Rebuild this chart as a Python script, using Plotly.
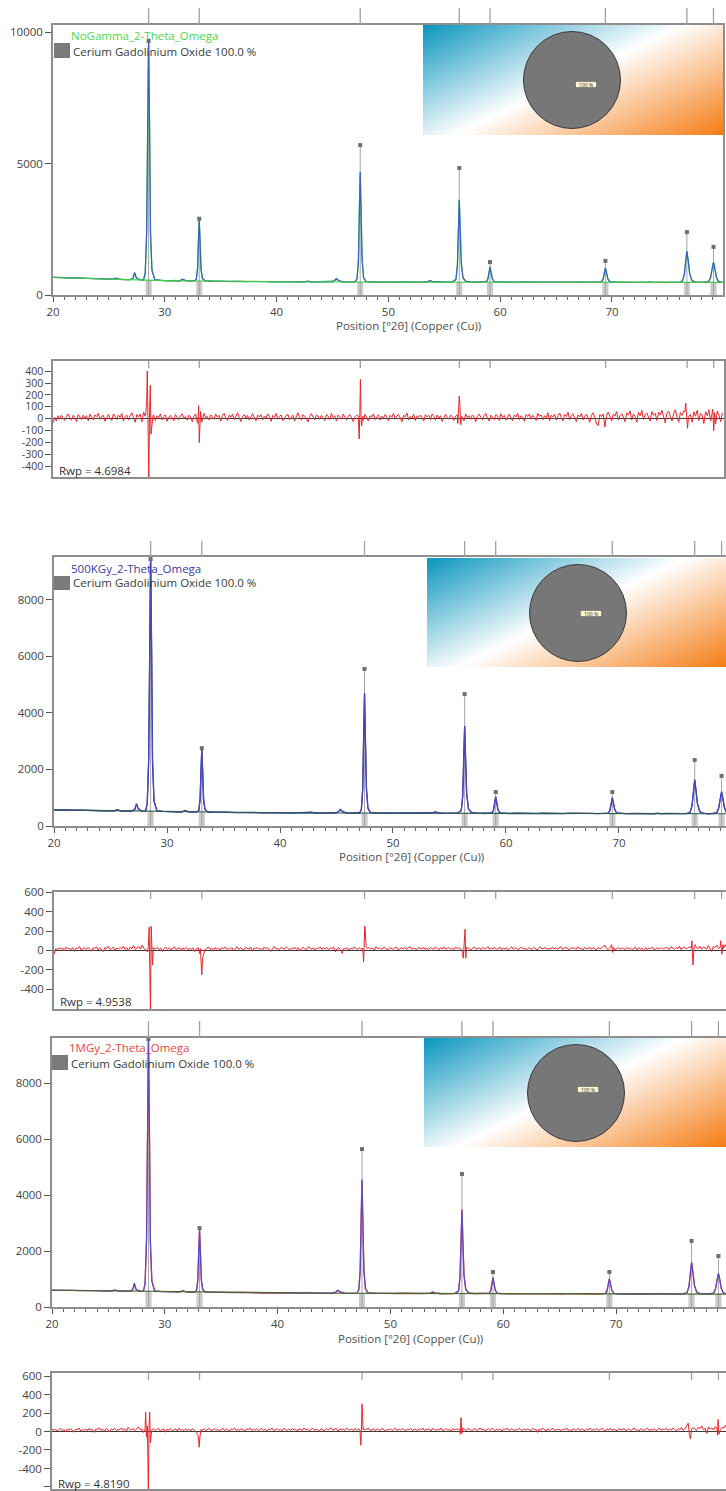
import base64
import plotly.graph_objects as go

W, H = 726, 1491
FONT = "Open Sans, Noto Sans, sans-serif"

# ---------------------------------------------------------------------------
# Scan positions (°2θ) shared by the observed and calculated profiles
# ---------------------------------------------------------------------------
PROFILE_X = [
    20.0, 20.6, 21.2, 21.8, 22.4, 23.0, 23.6, 24.2, 24.8, 25.3, 25.6, 25.9, 26.4, 26.9, 27.15, 27.3, 27.45, 27.8, 28.1,
    28.25, 28.38, 28.46, 28.55, 28.64, 28.72, 28.85,
    29.1, 29.6, 30.2, 30.8, 31.3, 31.6, 31.9, 32.4, 32.7,
    32.82, 32.93, 33.0, 33.08, 33.16, 33.24, 33.36,
    33.6, 34.2, 34.8, 35.4, 36.0, 36.6, 37.2, 37.8, 38.4, 39.0, 39.6, 40.2, 40.8, 41.4, 42.0, 42.5, 42.8, 43.1, 43.7,
    44.3, 44.9, 45.15, 45.35, 45.55, 46.0, 46.6, 47.05,
    47.2, 47.32, 47.4, 47.48, 47.56, 47.65, 47.78,
    48.0, 48.6, 49.2, 49.8, 50.4, 51.0, 51.6, 52.2, 52.8, 53.3, 53.55, 53.75, 53.95, 54.5, 55.1, 55.7,
    56.04, 56.17, 56.26, 56.34, 56.43, 56.52, 56.68,
    56.95, 57.5, 58.1, 58.55,
    58.76, 58.9, 58.99, 59.09, 59.19, 59.29, 59.44,
    59.7, 60.3, 60.9, 61.5, 62.1, 62.7, 63.3, 63.9, 64.5, 65.1, 65.7, 66.3, 66.9, 67.5, 68.1, 68.6,
    69.05, 69.2, 69.31, 69.41, 69.52, 69.63, 69.8,
    70.1, 70.7, 71.3, 71.9, 72.5, 73.1, 73.4, 73.7, 74.3, 74.9, 75.5, 76.0,
    76.3, 76.47, 76.59, 76.70, 76.82, 76.95, 77.15,
    77.45, 77.9, 78.35,
    78.65, 78.82, 78.95, 79.08, 79.2, 79.33, 79.5,
    79.7, 80.0,
]

# --- NoGamma scan --------------------------------------------------------------
NOGAMMA_OBS = [
    676, 655, 662, 641, 650, 628, 631, 610, 614, 596, 632, 603, 582, 590, 628, 838, 662, 566, 578,
    820, 2450, 6180, 9700, 6350, 2360, 960,
    582, 561, 540, 551, 532, 590, 545, 528, 551,
    610, 1020, 1940, 2880, 2010, 970, 640,
    534, 535, 517, 527, 509, 520, 503, 515, 498, 509, 494, 507, 492, 505, 490, 503, 520, 489, 502,
    488, 507, 533, 612, 547, 489, 501, 499,
    640, 1300, 3150, 4660, 3020, 1370, 650,
    512, 500, 485, 498, 483, 497, 484, 496, 483, 499, 508, 552, 503, 497, 483, 502,
    590, 1080, 2480, 3640, 2380, 1210, 640,
    512, 498, 483, 501,
    500, 620, 830, 1075, 840, 632, 508,
    502, 483, 496, 482, 495, 481, 494, 480, 493, 480, 494, 479, 493, 479, 492, 479,
    508, 585, 840, 1020, 822, 618, 503,
    497, 478, 491, 477, 490, 476, 507, 476, 489, 475, 490, 478,
    538, 765, 1270, 1650, 1305, 800, 561,
    488, 488, 476,
    518, 660, 995, 1235, 1018, 685, 533,
    484, 487,
]
NOGAMMA_CALC = [
    670, 664, 657, 650, 642, 634, 625, 617, 608, 600, 640, 596, 588, 582, 640, 860, 650, 572, 570,
    841, 2402, 6260, 9750, 6260, 2402, 932,
    590, 555, 548, 543, 540, 600, 538, 535, 545,
    602, 996, 1969, 2850, 1969, 996, 625,
    540, 528, 524, 520, 516, 513, 510, 508, 505, 503, 501, 500, 499, 498, 497, 497, 525, 496, 495,
    495, 500, 540, 620, 540, 496, 494, 505,
    620, 1331, 3089, 4680, 3089, 1331, 661,
    520, 493, 492, 491, 490, 490, 490, 490, 490, 492, 515, 545, 510, 490, 490, 495,
    584, 1114, 2424, 3610, 2424, 1185, 646,
    520, 491, 490, 495,
    507, 604, 843, 1060, 853, 620, 515,
    495, 490, 489, 489, 488, 488, 488, 487, 487, 487, 486, 486, 486, 486, 485, 486,
    502, 594, 823, 1030, 834, 610, 510,
    490, 485, 484, 484, 483, 483, 500, 483, 482, 482, 482, 485,
    530, 779, 1254, 1670, 1290, 815, 553,
    495, 481, 483,
    511, 673, 980, 1250, 1004, 696, 526,
    490, 480,
]

# --- 500 kGy scan --------------------------------------------------------------
KGY500_OBS = [
    575, 560, 568, 552, 559, 545, 552, 537, 546, 531, 568, 538, 524, 531, 582, 780, 618, 516, 527,
    780, 2380, 6060, 9620, 6200, 2290, 900,
    533, 518, 502, 510, 494, 552, 503, 489, 506,
    566, 960, 1840, 2740, 1900, 925, 590,
    494, 492, 476, 485, 471, 481, 467, 477, 463, 473, 460, 471, 457, 468, 455, 466, 486, 453, 464,
    451, 468, 494, 588, 507, 450, 461, 459,
    590, 1290, 3120, 4680, 3060, 1320, 632,
    474, 460, 447, 458, 446, 457, 445, 456, 444, 458, 464, 507, 474, 443, 455, 446,
    548, 1040, 2370, 3530, 2310, 1140, 608,
    472, 454, 441, 458,
    458, 570, 790, 1035, 805, 586, 466,
    456, 440, 451, 439, 450, 438, 450, 437, 449, 437, 452, 456, 436, 448, 435, 448,
    452, 560, 770, 1005, 785, 575, 460,
    451, 434, 446, 433, 445, 433, 458, 433, 444, 432, 444, 435,
    491, 725, 1220, 1640, 1230, 780, 503,
    457, 431, 445,
    461, 635, 925, 1215, 948, 660, 476,
    452, 430,
]
KGY500_CALC = [
    570, 566, 562, 558, 554, 551, 547, 543, 540, 537, 575, 532, 529, 526, 590, 790, 610, 522, 521,
    791, 2326, 6119, 9550, 6119, 2326, 881,
    540, 512, 508, 504, 500, 545, 497, 494, 500,
    559, 938, 1873, 2720, 1873, 938, 581,
    500, 486, 482, 479, 477, 475, 473, 471, 469, 467, 466, 465, 463, 462, 461, 460, 480, 459, 458,
    457, 462, 500, 580, 500, 456, 455, 465,
    582, 1304, 3087, 4700, 3087, 1304, 625,
    480, 454, 453, 452, 452, 451, 451, 450, 450, 452, 470, 500, 468, 449, 449, 452,
    540, 1058, 2340, 3500, 2340, 1120, 600,
    478, 448, 447, 452,
    464, 562, 802, 1020, 812, 578, 472,
    450, 446, 445, 445, 444, 444, 444, 443, 443, 443, 445, 450, 442, 442, 441, 442,
    458, 551, 781, 990, 792, 567, 466,
    445, 440, 440, 439, 439, 439, 452, 439, 438, 438, 438, 441,
    485, 734, 1206, 1620, 1242, 769, 509,
    451, 437, 439,
    467, 627, 933, 1200, 956, 650, 482,
    446, 436,
]

# --- 1 MGy scan ----------------------------------------------------------------
MGY1_OBS = [
    594, 603, 588, 597, 582, 591, 576, 585, 570, 579, 599, 575, 560, 570, 614, 830, 636, 555, 566,
    810, 2420, 6120, 9700, 6260, 2330, 950,
    569, 556, 540, 548, 533, 578, 541, 526, 544,
    603, 1000, 1880, 2780, 1950, 955, 628,
    529, 532, 516, 525, 510, 519, 504, 513, 499, 509, 495, 505, 492, 503, 490, 501, 516, 488, 499,
    486, 503, 524, 592, 536, 485, 496, 494,
    630, 1280, 3050, 4530, 2980, 1330, 660,
    506, 495, 482, 493, 480, 491, 478, 489, 476, 490, 494, 536, 504, 474, 485, 476,
    575, 1050, 2360, 3490, 2300, 1150, 635,
    499, 483, 470, 486,
    486, 600, 815, 1060, 828, 612, 494,
    484, 468, 479, 467, 478, 466, 477, 465, 476, 464, 476, 463, 475, 463, 474, 463,
    490, 565, 812, 1015, 800, 598, 486,
    478, 461, 473, 460, 472, 460, 479, 472, 459, 471, 459, 474,
    515, 740, 1215, 1590, 1245, 775, 538,
    471, 469, 459,
    498, 640, 955, 1190, 975, 662, 512,
    466, 468,
]
MGY1_CALC = [
    600, 597, 594, 591, 588, 585, 582, 579, 576, 573, 605, 569, 566, 564, 620, 850, 630, 561, 560,
    831, 2376, 6195, 9650, 6195, 2376, 922,
    575, 550, 546, 542, 539, 585, 535, 532, 538,
    597, 974, 1906, 2750, 1906, 974, 619,
    535, 526, 522, 519, 516, 513, 510, 507, 505, 503, 501, 499, 498, 497, 496, 495, 510, 494, 493,
    492, 497, 530, 600, 530, 491, 490, 500,
    612, 1302, 3007, 4550, 3007, 1302, 652,
    512, 489, 488, 487, 486, 485, 484, 483, 482, 484, 500, 530, 498, 480, 479, 482,
    567, 1074, 2327, 3460, 2327, 1134, 627,
    505, 477, 476, 480,
    492, 588, 825, 1040, 835, 604, 500,
    478, 474, 473, 473, 472, 472, 471, 471, 470, 470, 470, 469, 469, 469, 468, 469,
    484, 574, 798, 1000, 809, 590, 492,
    472, 467, 467, 466, 466, 466, 485, 466, 465, 465, 465, 468,
    509, 748, 1202, 1600, 1236, 782, 532,
    477, 463, 465,
    492, 647, 942, 1200, 965, 669, 506,
    472, 462,
]

# --- fitted background of each scan -----------------------------------------------
BACKGROUND_X = [20, 25, 30, 35, 40, 45, 50, 55, 60, 65, 70, 75, 80]
NOGAMMA_BG = [668, 603, 546, 521, 501, 494, 490, 489, 488, 486, 484, 482, 479]
KGY500_BG = [569, 538, 509, 480, 466, 457, 452, 449, 446, 443, 441, 438, 435]
MGY1_BG = [599, 574, 547, 520, 500, 492, 486, 480, 474, 470, 468, 465, 461]

# ---------------------------------------------------------------------------
# Cerium gadolinium oxide reference lines
# ---------------------------------------------------------------------------
REF_POS = [28.55, 33.08, 47.48, 56.34, 59.09, 69.41, 76.70, 79.08]
NOGAMMA_REF = [9660, 2900, 5700, 4830, 1250, 1300, 2390, 1830]
KGY500_REF = [9430, 2750, 5550, 4660, 1200, 1200, 2330, 1770]
MGY1_REF = [9570, 2820, 5640, 4750, 1250, 1250, 2360, 1820]
NOGAMMA_BASE = [565, 532, 494, 490, 490, 485, 482, 480]
KGY500_BASE = [520, 492, 455, 448, 447, 441, 438, 436]
MGY1_BASE = [558, 530, 490, 478, 475, 468, 464, 462]

# ---------------------------------------------------------------------------
# Difference curves (Iobs - Icalc): regular scan steps plus the peak regions
# ---------------------------------------------------------------------------
DIFF_START, DIFF_STEP = 20.0, 0.15
NOGAMMA_DIFF = [
    -35, 10, -20, 25, -5, 30, 8, -15, 22, 40, 5, -12, 28, 12, -25, 35, 15, -8, 30, 2,
    25, -18, 38, 10, -10, 32, 18, 45, -5, 20, 28, -22, 15, 35, 5, -15, 40, 22, -8, 30,
    12, 45, -20, 18, 30, -10, 25, 50, 8, -30, 35, 15, 40, -25, 55, 20, -12, 30, 5, -20,
    30, -15, 25, 8, 40, -10, 18, 32, -22, 12, 28, 5, -18, 35, 10, -8, 25, 42, 0, 20,
    -12, 30, 15, -25, 22, 40, -30, 10, 25, -15, 45, 8, 20, -10, 32, 15, -5, 38, 12, 28,
    -20, 25, 45, 5, -15, 30, 12, 38, -8, 22, 50, 10, -25, 18, 35, 5, 28, -12, 20, 42,
    8, -18, 30, 15, 35, -10, 22, 5, 40, 18, -22, 28, 12, 45, -5, 20, 32, -15, 10, 25,
    38, -8, 15, 30, -20, 25, 50, 12, -12, 35, 20, 5, -28, 18, 42, 8, -10, 30, 22, -5,
    28, 12, -15, 35, 20, -8, 45, 10, 25, -20, 32, 15, -5, 40, 18, -12, 22, 35, 5, -25,
    15, 30, -10, 20, 28, -15, 38, 8, -20, 25, 12, 40, -8, 18, 32, -12, 22, 5, 35, 15,
    -18, 28, 12, 45, -5, 22, 35, 8, -25, 30, 15, 48, -10, 20, 5, 38, -15, 25, 12, 30,
    8, -20, 35, 15, 28, -8, 40, 20, -12, 32, 5, 25, -22, 15, 38, 10, -5, 30, 18, -15,
    22, 35, -10, 28, 12, -18, 40, 8, 25, -5, 32, 15, -25, 20, 38, 10, -12, 28, 45, 5,
    -20, 30, 15, -8, 35, 22, -15, 42, 10, 28, -12, 20, 38, 5, -18, 32, 15, 45, -8, 25,
    12, -22, 35, 18, 40, -5, 28, 10, -15, 45, 20, 32, -10, 25, 8, 50, -18, 30, 15, 38,
    -12, 25, 48, 10, -20, 35, 18, 55, -8, 28, 40, 5, -25, 32, 15, 45, -10, 22, 38, 8,
    -30, 28, 50, 12, -45, -60, 35, 18, 40, -15, 30, 55, 10, -20, 38, 22, 60, -10, 25, 42,
    15, -25, 50, 30, 65, -12, 40, 20, -30, 55, 25, 70, -8, 35, 48, 10, -20, 60, 28, 45,
    -15, 55, 30, 70, 10, -35, 48, 62, 20, -20, 40, 75, 15, -30, 52, 28, 65, -10, 45, 20,
    35, -28, 58, 20, 70, -15, 45, 30, -40, 60, 25, 75, -20, 50, 10, -45, 65, 30, -25, 48,
]
NOGAMMA_PEAK_DIFF = [
    ([28.3, 28.38, 28.43, 28.5, 28.57, 28.63, 28.7, 28.76, 28.85, 28.95],
     [50, 150, 400, -20, -520, 40, 280, -130, -40, 30]),
    ([32.95, 33.02, 33.08, 33.14, 33.2, 33.3], [-40, 110, -200, -60, 60, -30]),
    ([47.3, 47.38, 47.44, 47.49, 47.55, 47.6, 47.7], [20, -170, 60, 330, 0, -60, 20]),
    ([56.2, 56.28, 56.33, 56.38, 56.45, 56.55], [-40, 100, 190, 120, -50, 20]),
    ([69.35, 69.45], [-70, 30]),
    ([76.5, 76.58, 76.66, 76.74, 76.82], [60, 130, 20, -80, 10]),
    ([79.0, 79.08, 79.16, 79.24], [80, -100, 50, -20]),
]
KGY500_DIFF = [
    -40, 20, 5, 30, 12, 25, -5, 35, 15, 22, 8, 30, -10, 25, 18, 40, 5, 20, 28, 10,
    32, 15, -8, 25, 20, 38, 5, 28, 12, -12, 30, 18, 42, 8, 22, 35, 0, 25, 15, 30,
    20, 45, 10, 28, -5, 35, 18, 50, 12, 30, 40, 15, 55, 20, 10, -15, 30, 22, 5, 28,
    15, 32, 8, 25, -10, 20, 35, 12, 28, 5, 22, 38, 10, 18, 30, -5, 25, 15, 32, 8,
    22, 10, 28, -12, 18, 30, -35, -60, -25, 5, 20, 35, 12, 25, -8, 30, 15, 22, 5, 28,
    18, 35, 8, 25, 12, 30, -5, 22, 38, 10, 28, 15, 5, 32, 20, 12, 35, -8, 25, 18,
    30, 12, 22, 5, 35, 18, 28, 10, -10, 25, 40, 15, 20, 8, 32, 22, 12, 38, 18, 5,
    25, 15, 35, 10, 28, -5, 20, 32, 15, 8, 38, 22, 12, 30, 5, 25, 18, 35, 10, 28,
    15, 30, 8, 25, 20, 35, -15, 18, 28, 10, -30, 22, 15, 30, 5, 25, 12, 35, 20, 8,
    28, 15, 22, 35, 8, 20, 30, 12, 25, 5, 38, 18, 28, 10, 22, 35, 15, 5, 30, 20,
    12, 25, 35, 8, 20, 28, 15, 32, 10, 22, 40, 12, 25, 18, 5, 30, 22, 15, 35, 10,
    25, 8, 30, 18, 12, 35, 20, 5, 28, 15, 38, 10, 22, 30, 12, 25, 8, 35, 18, 28,
    15, -20, 22, 10, 30, 18, 5, 25, 35, 12, 20, 28, 8, 32, 15, 22, 40, 10, 25, 18,
    30, 12, 20, 35, 8, 25, 15, 28, 5, 22, 38, 12, 30, 18, 10, 25, 35, 15, 20, 8,
    28, 18, 10, 32, 22, 5, 25, 38, 15, 20, 30, 8, 25, 12, 35, 18, 28, 10, 22, 40,
    12, 25, 35, 15, 8, 30, 20, 28, 10, 38, 18, 25, 5, 30, 22, 15, 35, 12, 28, 20,
    8, 30, 18, 25, 40, 55, 20, 10, 28, 15, 35, 5, 22, 30, 12, 25, 18, 8, 32, 15,
    25, 10, 20, 35, 5, 28, 15, 22, -8, 30, 12, 25, 18, 35, 8, 20, 28, 12, 30, 18,
    15, 32, 22, 10, 38, 25, 12, 30, 18, 45, 8, 28, 35, 15, 25, 40, 20, 10, 35, 28,
    20, 45, 12, 35, 28, 15, 50, 25, -10, 40, 30, 55, 18, 35, 48, 20, 60, 25, 40, 30,
]
KGY500_PEAK_DIFF = [
    ([28.35, 28.42, 28.48, 28.54, 28.6, 28.66, 28.72, 28.8], [40, 240, -100, -650, 250, -50, -150, 30]),
    ([32.95, 33.02, 33.08, 33.15, 33.25], [20, -120, -250, -80, -20]),
    ([47.35, 47.4, 47.45, 47.5, 47.55, 47.62], [-20, -120, 150, 250, 200, 40]),
    ([56.22, 56.28, 56.34, 56.38, 56.44, 56.5], [-80, 40, 140, 220, -80, 30]),
    ([69.35, 69.45], [60, -20]),
    ([76.45, 76.55, 76.65, 76.75], [100, -150, 40, 60]),
    ([79.0, 79.1, 79.2], [100, -40, 60]),
]
MGY1_DIFF = [
    30, 12, 25, 5, 20, 35, 8, 22, -5, 28, 15, 32, 10, -8, 25, 18, 38, 5, 22, 12,
    28, 8, 35, 15, 22, -10, 30, 18, 40, 12, 25, 5, 32, 20, -5, 28, 15, 35, 10, 22,
    18, 40, 12, 30, 5, 45, 22, 15, 35, 8, 28, 50, 20, 30, -10, 25, 12, 32, 5, 20,
    28, 10, 22, 35, 5, 18, 30, -8, 25, 15, 32, 10, 20, 28, 5, 38, 15, 22, 8, 30,
    12, 25, 5, 30, 18, -10, -30, -50, -20, 15, 28, 10, 22, 35, 8, 20, 30, 12, 25, 5,
    22, 35, 10, 28, 15, 5, 30, 20, 38, 8, 25, 12, 32, 18, 5, 28, 22, 40, 10, 25,
    15, 30, 8, 22, 35, 12, 25, 5, 28, 18, 38, 10, 20, 30, 15, 25, 8, 35, 20, 12,
    28, 10, 35, 18, 25, 5, 30, 22, 12, 38, 15, 28, 8, 20, 35, 12, 25, 18, 5, 30,
    20, 8, 32, 15, 28, 40, 12, 22, 35, 5, 25, 18, 30, 10, 38, 22, 15, 28, 8, 35,
    12, 28, 20, 5, 35, 15, 25, 38, 10, 22, 30, 8, 28, 18, 12, 35, 20, 5, 25, 15,
    30, 12, 22, 38, 8, 25, 15, 32, 20, 5, 28, 18, 35, 10, 25, 22, 8, 30, 15, 38,
    10, 25, 18, 30, 5, 35, 22, 12, 28, 15, 38, 8, 20, 30, 12, 25, 5, 32, 18, 22,
    28, 15, 8, 30, 22, 12, 35, 18, 5, 25, 32, 10, 20, 38, 15, 28, 8, 22, 30, 12,
    35, 20, 10, 28, 15, 25, 5, 32, 18, 38, 12, 22, 30, 8, 25, 15, 35, 20, 10, 28,
    15, 30, 22, 8, 35, 18, 25, -10, 28, 12, 38, 20, 5, 30, 15, 22, 35, 10, 25, 18,
    22, 8, 30, 18, 38, 12, 25, 5, 32, 20, 15, 35, 10, 28, 22, 8, 30, 15, 38, 12,
    25, 15, 32, 10, 22, 35, 18, 5, 28, 15, 38, 12, 25, 20, 8, 30, 22, 15, 35, 10,
    18, 30, 8, 25, 38, 15, 22, 5, 32, 20, 12, 28, 35, 10, 22, 15, 30, 8, 25, 38,
    12, 28, 20, 35, 10, 25, 15, 38, 22, 5, 30, 18, 45, 12, 28, 55, -15, 35, 20, 40,
    25, 12, 45, 30, 60, 18, 35, -20, 50, 25, 40, 15, 55, 30, 65, 20, 45, 35, 70, 28,
]
MGY1_PEAK_DIFF = [
    ([28.3, 28.38, 28.46, 28.54, 28.6, 28.66, 28.72, 28.8], [210, -60, 60, -650, 40, 210, -120, 20]),
    ([32.98, 33.05, 33.12, 33.2], [-60, -170, -50, 20]),
    ([47.33, 47.38, 47.43, 47.48, 47.53, 47.58], [-40, -150, 20, 300, 200, 20]),
    ([56.2, 56.26, 56.34, 56.4], [-30, 150, -20, 40]),
    ([76.4, 76.5, 76.6, 76.7], [90, -30, -80, 30]),
    ([79.0, 79.05, 79.12], [-40, 130, -30]),
]

SCAN_NAMES = ["NoGamma_2-Theta_Omega", "500KGy_2-Theta_Omega", "1MGy_2-Theta_Omega"]
RWP = ["4.6984", "4.9538", "4.8190"]
PHASE_NAME = "Cerium Gadolinium Oxide"
PHASE_PERCENT = [100.0]
X_TITLE = "Position [°2θ] (Copper (Cu))"

AXIS_LINE = "#8e8e8e"
TICK_COLOR = "#555555"
TEXT_COLOR = "#444444"


def px_x(v):
    return v / W


def px_y(v):
    return 1 - v / H


def merge_diff(grid_y, peak_parts):
    grid_x = [round(DIFF_START + DIFF_STEP * i, 3) for i in range(len(grid_y))]
    spans = [(min(px), max(px)) for px, _ in peak_parts]
    pts = [(x, y) for x, y in zip(grid_x, grid_y)
           if not any(lo <= x <= hi for lo, hi in spans)]
    for px, py in peak_parts:
        pts.extend(zip(px, py))
    pts.sort()
    return [p[0] for p in pts], [p[1] for p in pts]


def gradient_uri():
    svg = (
        '<svg xmlns="http://www.w3.org/2000/svg" width="300" height="110" '
        'viewBox="0 0 300 110" preserveAspectRatio="none">'
        '<defs><linearGradient id="g" gradientUnits="userSpaceOnUse" '
        'x1="97" y1="-47" x2="197" y2="160">'
        '<stop offset="0" stop-color="#0a95be"/>'
        '<stop offset="0.49" stop-color="#ffffff"/>'
        '<stop offset="1" stop-color="#f47c14"/>'
        '</linearGradient></defs>'
        '<rect width="300" height="110" fill="url(#g)"/></svg>'
    )
    return "data:image/svg+xml;base64," + base64.b64encode(svg.encode()).decode()


MAIN_PANELS = [
    dict(n=1, box=(53, 723, 25, 295), xr=[20, 79.93], yr=[0, 10266], yt=[0, 5000, 10000],
         obs=NOGAMMA_OBS, calc=NOGAMMA_CALC, bg=NOGAMMA_BG, ref=NOGAMMA_REF, base=NOGAMMA_BASE,
         obs_color="#3fd43f", calc_color="#3a5fc8", bg_color="#46c846", name_color="#4cd84c",
         mirror_y=True, ref_tick_top=8, img=(423, 25, 300, 110), pie=(572, 80),
         pie_label=(597, 81), legend=(70, 35, 54, 43, 58, 72, 51), title=(408, 326), scan=0),
    dict(n=3, box=(54, 726, 557, 826), xr=[20, 79.47], yr=[0, 9505], yt=[0, 2000, 4000, 6000, 8000],
         obs=KGY500_OBS, calc=KGY500_CALC, bg=KGY500_BG, ref=KGY500_REF, base=KGY500_BASE,
         obs_color="#26357a", calc_color="#4a46c8", bg_color="#2f5a4c", name_color="#3b3b9c",
         mirror_y=False, ref_tick_top=541, img=(427, 558, 300, 109), pie=(578, 613),
         pie_label=(602, 613), legend=(70, 568, 54, 576, 590, 72, 583), title=(412, 857), scan=1),
    dict(n=5, box=(52, 726, 1038, 1307), xr=[20, 79.75], yr=[0, 9607], yt=[0, 2000, 4000, 6000, 8000],
         obs=MGY1_OBS, calc=MGY1_CALC, bg=MGY1_BG, ref=MGY1_REF, base=MGY1_BASE,
         obs_color="#e5472a", calc_color="#5a48d0", bg_color="#4a6a34", name_color="#e8453c",
         mirror_y=False, ref_tick_top=1021, img=(424, 1038, 302, 109), pie=(576, 1093),
         pie_label=(599, 1093), legend=(68, 1047, 52, 1055, 1070, 70, 1063), title=(410, 1338), scan=2),
]

DIFF_PANELS = [
    dict(n=2, box=(53, 724, 361, 477), xr=[20, 80.0], yr=[-490, 485],
         yt=[-400, -300, -200, -100, 0, 100, 200, 300, 400], fs=10.5,
         diff=NOGAMMA_DIFF, peaks=NOGAMMA_PEAK_DIFF, mirror_y=True, rwp=(58, 471), scan=0),
    dict(n=4, box=(54, 726, 892, 1009), xr=[20, 79.47], yr=[-605, 604],
         yt=[-400, -200, 0, 200, 400, 600], fs=11.5,
         diff=KGY500_DIFF, peaks=KGY500_PEAK_DIFF, mirror_y=False, rwp=(59, 1002), scan=1),
    dict(n=6, box=(52, 726, 1373, 1489), xr=[20, 79.75], yr=[-622, 633],
         yt=[-600, -400, -200, 0, 200, 400, 600], fs=11.5,
         diff=MGY1_DIFF, peaks=MGY1_PEAK_DIFF, mirror_y=False, rwp=(57, 1483), scan=2),
]


def axis_names(n):
    suffix = "" if n == 1 else str(n)
    return "x" + suffix, "y" + suffix, "xaxis" + suffix, "yaxis" + suffix


fig = go.Figure()
layout = {}
shapes, annotations, images = [], [], []
uri = gradient_uri()

for p in MAIN_PANELS:
    xa, ya, xkey, ykey = axis_names(p["n"])
    l, r, t, b = p["box"]
    tickfont = dict(family=FONT, size=11.5, color=TEXT_COLOR)

    # phase reference bars at the foot of each reflection
    fig.add_trace(go.Bar(x=REF_POS, y=p["base"], width=0.55, xaxis=xa, yaxis=ya,
                         marker=dict(color="#cbcbcb", line=dict(width=0)),
                         hoverinfo="skip", showlegend=False))
    # reference stick lines
    sx, sy = [], []
    for pos, inten in zip(REF_POS, p["ref"]):
        sx += [pos, pos, None]
        sy += [0, inten, None]
    fig.add_trace(go.Scatter(x=sx, y=sy, mode="lines", xaxis=xa, yaxis=ya,
                             line=dict(color="#a6a6a6", width=1),
                             hoverinfo="skip", showlegend=False))
    fig.add_trace(go.Scatter(x=PROFILE_X, y=p["obs"], mode="lines", xaxis=xa, yaxis=ya,
                             line=dict(color=p["obs_color"], width=1.3),
                             name=SCAN_NAMES[p["scan"]], showlegend=False))
    fig.add_trace(go.Scatter(x=PROFILE_X, y=p["calc"], mode="lines", xaxis=xa, yaxis=ya,
                             line=dict(color=p["calc_color"], width=1.2),
                             name="Calculated", showlegend=False))
    fig.add_trace(go.Scatter(x=BACKGROUND_X, y=p["bg"], mode="lines", xaxis=xa, yaxis=ya,
                             line=dict(color=p["bg_color"], width=1.1),
                             name="Background", showlegend=False))
    fig.add_trace(go.Scatter(x=REF_POS, y=p["ref"], mode="markers", xaxis=xa, yaxis=ya,
                             marker=dict(symbol="square", size=4, color="#6f6f6f"),
                             hoverinfo="skip", showlegend=False))

    layout[xkey] = dict(
        domain=[px_x(l), min(px_x(r), 1.0)], range=p["xr"], anchor=ya, automargin=False,
        showline=True, linecolor=AXIS_LINE, linewidth=1.5, mirror=True,
        ticks="outside", ticklen=5, tickwidth=1, tickcolor=TICK_COLOR,
        tick0=20, dtick=10, tickfont=tickfont, showgrid=False, zeroline=False,
        minor=dict(ticks="outside", ticklen=3, tickwidth=1, tickcolor="#666666",
                   tick0=20, dtick=1, showgrid=False),
    )
    layout[ykey] = dict(
        domain=[px_y(b), px_y(t)], range=p["yr"], anchor=xa, automargin=False,
        showline=True, linecolor=AXIS_LINE, linewidth=1.5, mirror=p["mirror_y"],
        ticks="outside", ticklen=6, tickwidth=1, tickcolor=TICK_COLOR,
        tickvals=p["yt"], ticktext=[str(v) for v in p["yt"]],
        tickfont=tickfont, showgrid=False, zeroline=False,
    )

    # reflection markers above the frame
    for pos in REF_POS:
        shapes.append(dict(type="line", xref=xa, yref="paper", x0=pos, x1=pos,
                           y0=px_y(t), y1=px_y(p["ref_tick_top"]),
                           line=dict(color="#a0a0a0", width=1.3)))

    # quantification inset: gradient panel with the phase pie
    ix, iy, iw, ih = p["img"]
    images.append(dict(source=uri, xref="paper", yref="paper", x=px_x(ix), y=px_y(iy),
                       sizex=iw / W, sizey=ih / H, xanchor="left", yanchor="top",
                       sizing="stretch", layer="below"))
    cx, cy = p["pie"]
    rad = 48.5
    fig.add_trace(go.Pie(values=PHASE_PERCENT, labels=[PHASE_NAME], sort=False,
                         domain=dict(x=[px_x(cx - rad), px_x(cx + rad)],
                                     y=[px_y(cy + rad), px_y(cy - rad)]),
                         marker=dict(colors=["#777777"], line=dict(color="#3a3a3a", width=1)),
                         textinfo="none", hoverinfo="skip", showlegend=False))
    lx, ly = p["pie_label"]
    annotations.append(dict(xref="paper", yref="paper", x=px_x(lx), y=px_y(ly),
                            text=f"{PHASE_PERCENT[0]:.0f} %", showarrow=False,
                            font=dict(family=FONT, size=5, color="#333333"),
                            bgcolor="#fbf6d2", bordercolor="#555555", borderwidth=0.6,
                            width=20, height=5, borderpad=0.5))

    # scan name and phase legend
    nx, ny, sqx, sqt, sqb, tx, ty = p["legend"]
    annotations.append(dict(xref="paper", yref="paper", x=px_x(nx), y=px_y(ny),
                            xanchor="left", yanchor="middle", showarrow=False,
                            text=SCAN_NAMES[p["scan"]], borderpad=0,
                            font=dict(family=FONT, size=11.5, color=p["name_color"])))
    shapes.append(dict(type="rect", xref="paper", yref="paper",
                       x0=px_x(sqx), x1=px_x(sqx + 16), y0=px_y(sqb), y1=px_y(sqt),
                       fillcolor="#7b7b7b", line=dict(width=0)))
    annotations.append(dict(xref="paper", yref="paper", x=px_x(tx), y=px_y(ty),
                            xanchor="left", yanchor="middle", showarrow=False,
                            text=f"{PHASE_NAME} {PHASE_PERCENT[0]:.1f} %", borderpad=0,
                            font=dict(family=FONT, size=11.5, color="#3a3a3a")))
    ttx, tty = p["title"]
    annotations.append(dict(xref="paper", yref="paper", x=px_x(ttx), y=px_y(tty),
                            xanchor="center", yanchor="middle", showarrow=False,
                            text=X_TITLE, font=dict(family=FONT, size=11.5, color="#505050")))

for p in DIFF_PANELS:
    xa, ya, xkey, ykey = axis_names(p["n"])
    l, r, t, b = p["box"]
    dx, dy = merge_diff(p["diff"], p["peaks"])
    fig.add_trace(go.Scatter(x=dx, y=dy, mode="lines", xaxis=xa, yaxis=ya,
                             line=dict(color="#e8262a", width=1),
                             name="Difference", showlegend=False))
    layout[xkey] = dict(
        domain=[px_x(l), min(px_x(r), 1.0)], range=p["xr"], anchor=ya, automargin=False,
        showline=True, linecolor=AXIS_LINE, linewidth=1.5, mirror=True,
        ticks="", showticklabels=False, showgrid=False, zeroline=False,
    )
    layout[ykey] = dict(
        domain=[px_y(b), px_y(t)], range=p["yr"], anchor=xa, automargin=False,
        showline=True, linecolor=AXIS_LINE, linewidth=1.5, mirror=p["mirror_y"],
        ticks="outside", ticklen=6, tickwidth=1, tickcolor=TICK_COLOR,
        tickvals=p["yt"], ticktext=[str(v) for v in p["yt"]],
        tickfont=dict(family=FONT, size=p["fs"], color=TEXT_COLOR), showgrid=False,
        zeroline=True, zerolinecolor="#3a3a3a", zerolinewidth=1,
    )
    for pos in REF_POS:
        shapes.append(dict(type="line", xref=xa, yref="paper", x0=pos, x1=pos,
                           y0=px_y(t), y1=px_y(t + 7),
                           line=dict(color="#a0a0a0", width=1.3)))
    rx, ry = p["rwp"]
    annotations.append(dict(xref="paper", yref="paper", x=px_x(rx), y=px_y(ry),
                            xanchor="left", yanchor="middle", showarrow=False,
                            text=f"Rwp = {RWP[p['scan']]}", borderpad=0,
                            font=dict(family=FONT, size=11.5, color="#333333")))

fig.update_layout(
    template="none",
    width=W, height=H,
    margin=dict(l=0, r=0, t=0, b=0, autoexpand=False),
    paper_bgcolor="white",
    plot_bgcolor="rgba(0,0,0,0)",
    showlegend=False,
    shapes=shapes, annotations=annotations, images=images,
    font=dict(family=FONT, color=TEXT_COLOR),
    **layout,
)

fig.write_html("out.html")
